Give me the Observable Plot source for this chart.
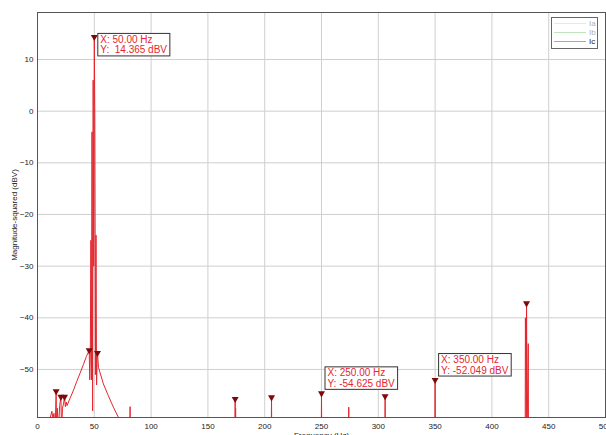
<!DOCTYPE html>
<html><head><meta charset="utf-8">
<script src="https://cdn.jsdelivr.net/npm/d3@7"></script>
<script src="https://cdn.jsdelivr.net/npm/@observablehq/plot@0.6"></script>
<style>
body{margin:0;overflow:hidden;background:#fff;font-family:"Liberation Sans",Arial,sans-serif}
#wrap{position:relative;width:606px;height:435px;overflow:hidden}
#legend{position:absolute;left:551px;top:17px;width:45px;height:29px;border:1px solid #666;background:#fff;font-size:8px;padding-top:1px;box-sizing:content-box}
#legend .row{display:flex;align-items:center;height:9px}
#legend .sw{display:inline-block;width:32px;height:1px;margin-left:2px;margin-right:3px}
.tip text{white-space:pre}
</style></head><body><div id="wrap"><div id="legend"></div></div>
<script>
// Spectrum of Ic (Frequency Hz, dBV); -62 = below visible floor
const lineF = [9.5, 11, 12.7, 13.5, 14.5, 15.5, 16.4, 16.8, 17.5, 18.5, 19.5, 20.6, 21.2, 22, 23, 23.8, 24.5, 25.3, 26,
  28.8, 31.7, 34.6, 37.5, 40.5, 43, 45.5,
  46, 46.5, 47, 47.5, 48, 48.5, 49, 49.5, 50, 50.5, 51, 51.5, 52, 52.5, 52.8,
  53.7, 58, 62.4, 66.8, 71.3, 73,
  81.3, 81.5, 81.7,
  173.8, 174, 174.2, 174.4, 174.6,
  205.8, 206, 206.2,
  249.8, 250, 250.2,
  273.8, 274, 274.2,
  305.8, 306, 306.2,
  349.8, 350, 350.2,
  429.3, 429.5, 430.3, 430.5, 431, 432, 432.2];
const lineDb = [-62, -59.5, -58.1, -59.5, -58.5, -62, -54.2, -62, -57.5, -62, -57, -55.3, -62, -57.5, -56.5, -55.3, -57.2, -56.3, -57,
  -55.5, -54, -52.3, -50.7, -49, -47.5, -46.3,
  -52, -47, -25, -52, -4, -58, 6, -30, 14.365, -2, -51, -24, -53, -48, -46.8,
  -49.6, -52.8, -55.1, -57.3, -59.3, -62,
  -62, -57.2, -62,
  -62, -55.7, -62, -57.5, -62,
  -62, -55.4, -62,
  -62, -54.625, -62,
  -62, -57.3, -62,
  -62, -55.2, -62,
  -62, -52.049, -62,
  -62, -40, -62, -37.2, -62, -45, -62];

// Peak markers
const peakF = [16.4, 20.6, 23.8, 45.5, 50, 52.8, 174, 206, 250, 306, 350, 430.5];
const peakDb = [-54.2, -55.3, -55.3, -46.3, 14.365, -46.8, -55.7, -55.4, -54.625, -55.2, -52.049, -37.2];

// Data tips
const tipF = [50, 250, 350];
const tipDb = [14.365, -54.625, -52.049];
const tipLabels = tipF.map((f, i) => `X: ${f.toFixed(2)} Hz\nY: ${tipDb[i] < 0 ? "" : " "}${tipDb[i].toFixed(3)} dBV`);

// Axes
const xTicks = [0, 50, 100, 150, 200, 250, 300, 350, 400, 450, 500];
const yTicks = [-50, -40, -30, -20, -10, 0, 10];

// Legend
const seriesNames = ["Ia", "Ib", "Ic"];
const seriesColors = ["#f2eea6", "#bfe3bf", "#f08a8a"];
const seriesTextColors = ["#b0b0b0", "#b0b0b0", "#222"];

const lineData = lineF.map((f, i) => ({f, db: lineDb[i]}));
const peakData = peakF.map((f, i) => ({f, db: peakDb[i]}));
const tipData = tipF.map((f, i) => ({f, db: tipDb[i], label: tipLabels[i]}));

const red = "#e5262e";
const chart = Plot.plot({
  width: 606, height: 445,
  marginLeft: 37, marginRight: 1, marginTop: 12, marginBottom: 28,
  style: {fontFamily: "Liberation Sans, Arial, sans-serif", fontSize: "8px", color: "#222", background: "#fff"},
  x: {domain: [0, 500], ticks: xTicks, tickSize: 0, tickPadding: 6, label: "Frequency (Hz)", labelAnchor: "center", labelArrow: "none", labelOffset: 20},
  y: {domain: [-59.3, 19.1], ticks: yTicks, tickSize: 0, tickPadding: 4, label: "Magnitude-squared (dBV)", labelAnchor: "center", labelArrow: "none", labelOffset: 26},
  marks: [
    Plot.gridX(xTicks, {stroke: "#cfcfcf", strokeOpacity: 1}),
    Plot.gridY(yTicks, {stroke: "#cfcfcf", strokeOpacity: 1}),
    Plot.line(lineData, {x: "f", y: "db", stroke: red, strokeWidth: 1, clip: true}),
    Plot.dot(peakData, {x: "f", y: "db", symbol: "triangle", rotate: 180, r: 2.6, fill: "#7d0a0a", stroke: "none"}),
    Plot.frame({stroke: "#555"}),
    Plot.text(tipData.slice(0, 1), {x: "f", y: "db", text: "label", textAnchor: "start", lineAnchor: "top", lineHeight: 1.05, dx: 6, dy: -1.5, fill: red, fontSize: 10, className: "tip"}),
    Plot.text(tipData.slice(1), {x: "f", y: "db", text: "label", textAnchor: "start", lineAnchor: "bottom", lineHeight: 1.05, dx: 6, dy: -6.5, fill: red, fontSize: 10, className: "tip"})
  ]
});
const wrap = document.getElementById("wrap");
wrap.insertBefore(chart, wrap.firstChild);

// Boxes behind data tip texts
d3.select(chart).selectAll("g.tip text").each(function () {
  const b = this.getBBox();
  const r = document.createElementNS("http://www.w3.org/2000/svg", "rect");
  r.setAttribute("x", b.x - 2.5);
  r.setAttribute("y", b.y - 0.5);
  r.setAttribute("width", b.width + 5);
  r.setAttribute("height", b.height + 1);
  r.setAttribute("fill", "#fff");
  r.setAttribute("stroke", "#333");
  r.setAttribute("stroke-width", 1);
  if (this.getAttribute("transform")) r.setAttribute("transform", this.getAttribute("transform"));
  this.parentNode.insertBefore(r, this);
});

// Legend
const leg = d3.select("#legend");
seriesNames.forEach((n, i) => {
  const row = leg.append("div").attr("class", "row");
  row.append("span").attr("class", "sw").style("background", seriesColors[i]);
  row.append("span").style("color", seriesTextColors[i]).text(n);
});
</script></body></html>
